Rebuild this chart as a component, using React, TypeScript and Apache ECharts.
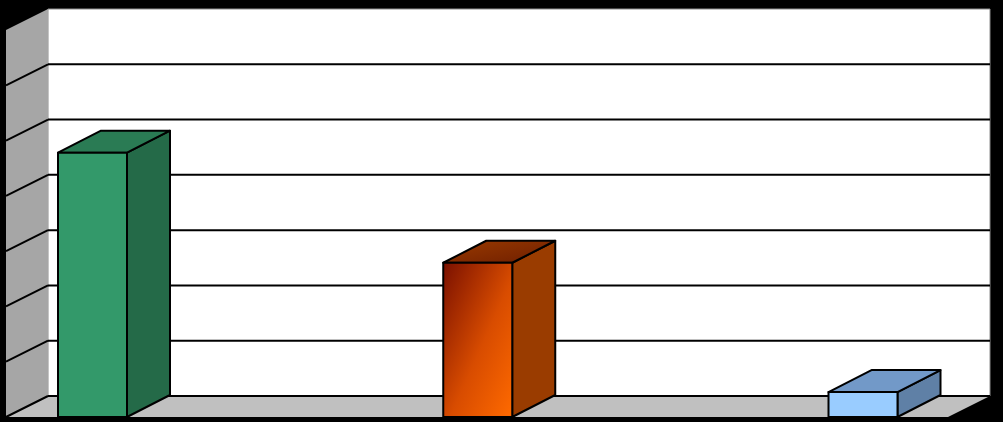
import React, { useEffect, useRef } from "react";
import * as echarts from "echarts";

const categories = ["1", "2", "3"];
const values = [47.8, 27.9, 4.5];
const ticks = [0, 10, 20, 30, 40, 50, 60, 70];

const faceFront: any[] = [
  "#33996a",
  new echarts.graphic.LinearGradient(0, 0, 1, 1, [
    { offset: 0, color: "#7a1000" },
    { offset: 0.55, color: "#d84c00" },
    { offset: 1, color: "#ff6a00" },
  ]),
  "#99ccff",
];
const faceSide: any[] = ["#246a48", "#9a3c00", "#5f80a6"];
const faceTop: any[] = [
  "#2a7b54",
  new echarts.graphic.LinearGradient(0, 0, 1, 1, [
    { offset: 0, color: "#9a3a00" },
    { offset: 1, color: "#6e1e00" },
  ]),
  "#7299c8",
];

export default function App() {
  const ref = useRef<HTMLDivElement>(null);
  useEffect(() => {
    if (!ref.current) return;
    const chart = echarts.init(ref.current, undefined, { renderer: "svg" });
    const D = [-42, 21];
    const option: any = {
      animation: false,
      backgroundColor: "#000",
      grid: [
        { left: 92.5, right: 140, top: 30, bottom: 5 },
        { left: 48, right: 13, top: 9, bottom: 26 },
      ],
      xAxis: [
        { type: "category", data: categories, boundaryGap: false, gridIndex: 0, show: false },
        { type: "value", min: 0, max: 1, gridIndex: 1, show: false },
      ],
      yAxis: [
        { type: "value", min: 0, max: 70, interval: 10, gridIndex: 0, show: false },
        { type: "value", min: 0, max: 70, interval: 10, gridIndex: 1, show: false },
      ],
      series: [
        {
          type: "custom",
          xAxisIndex: 1,
          yAxisIndex: 1,
          z: 1,
          silent: true,
          data: [[0, 0]],
          renderItem: (_p: any, api: any) => {
            const p00 = api.coord([0, 0]);
            const p11 = api.coord([1, 70]);
            const p01 = api.coord([0, 70]);
            const p10 = api.coord([1, 0]);
            const add = (p: number[]) => [p[0] + D[0], p[1] + D[1]];
            return {
              type: "group",
              children: [
                {
                  type: "rect",
                  shape: { x: p01[0], y: p01[1], width: p11[0] - p01[0], height: p00[1] - p01[1] },
                  style: { fill: "#fff", stroke: "#8c8c8c", lineWidth: 1 },
                },
                {
                  type: "polygon",
                  shape: { points: [p01, p00, add(p00), add(p01)] },
                  style: { fill: "#a6a6a6" },
                },
                {
                  type: "polygon",
                  shape: { points: [p00, p10, add(p10), add(p00)] },
                  style: { fill: "#c0c0c0" },
                },
              ],
            };
          },
        },
        {
          type: "custom",
          xAxisIndex: 1,
          yAxisIndex: 1,
          z: 2,
          silent: true,
          data: ticks.slice(0, ticks.length - 1).map((t) => [0, t]),
          renderItem: (_p: any, api: any) => {
            const t = api.value(1);
            const a = api.coord([0, t]);
            const b = api.coord([1, t]);
            return {
              type: "group",
              children: [
                { type: "line", shape: { x1: a[0], y1: a[1], x2: b[0], y2: b[1] }, style: { stroke: "#000", lineWidth: 2 } },
                { type: "line", shape: { x1: a[0], y1: a[1], x2: a[0] + D[0], y2: a[1] + D[1] }, style: { stroke: "#000", lineWidth: 2 } },
              ],
            };
          },
        },
        {
          type: "custom",
          xAxisIndex: 0,
          yAxisIndex: 0,
          z: 3,
          silent: true,
          data: values.map((v, i) => [i, v]),
          renderItem: (params: any, api: any) => {
            const i = params.dataIndex;
            const top = api.coord([api.value(0), api.value(1)]);
            const base = api.coord([api.value(0), 0]);
            const w = 69, dx = 43, dy = -22;
            const x0 = top[0] - w / 2, x1 = top[0] + w / 2, yt = top[1], yb = base[1];
            const st = { stroke: "#000", lineWidth: 2, lineJoin: "round" };
            return {
              type: "group",
              children: [
                {
                  type: "polygon",
                  shape: { points: [[x1, yt], [x1 + dx, yt + dy], [x1 + dx, yb + dy], [x1, yb]] },
                  style: { fill: faceSide[i], ...st },
                },
                {
                  type: "polygon",
                  shape: { points: [[x0, yt], [x0 + dx, yt + dy], [x1 + dx, yt + dy], [x1, yt]] },
                  style: { fill: faceTop[i], ...st },
                },
                {
                  type: "rect",
                  shape: { x: x0, y: yt, width: w, height: yb - yt },
                  style: { fill: faceFront[i], ...st },
                },
              ],
            };
          },
        },
      ],
    };
    chart.setOption(option);
    return () => chart.dispose();
  }, []);
  return (
    <div
      ref={ref}
      style={{ position: "fixed", left: 0, top: 0, width: 1003, height: 422 }}
    />
  );
}
